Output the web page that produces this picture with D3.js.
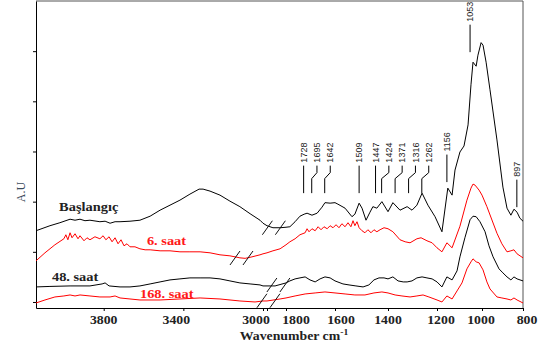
<!DOCTYPE html>
<html>
<head>
<meta charset="utf-8">
<script src="https://cdn.jsdelivr.net/npm/d3@7"></script>
<style>
  body { margin: 0; background: #fff; }
</style>
</head>
<body>
<div id="chart"></div>
<script>
// broken wavenumber axis: 4140-3000 | 1880-800
const wnStops = [4140, 3000, 1880, 1800, 1600, 1400, 1200, 1000, 800];
const xTicks = [3800, 3400, 3000, 1800, 1600, 1400, 1200, 1000, 800];
const yTicks = [0, 1, 2, 3, 4, 5];

// spectra [wavenumber, A.U]
const baslangic = [
  [4140,1.42],[4070,1.52],[4020,1.58],[3969,1.65],[3944,1.63],[3919,1.65],[3894,1.62],[3869,1.63],
  [3819,1.60],[3793,1.61],[3768,1.57],[3743,1.60],[3718,1.60],[3668,1.61],[3618,1.63],[3567,1.71],
  [3517,1.83],[3467,1.93],[3417,2.03],[3367,2.15],[3321,2.25],[3301,2.25],[3266,2.21],[3216,2.13],
  [3166,2.01],[3116,1.90],[3065,1.76],[3015,1.63],[3000,1.57],
  [1880,1.52],[1855,1.48],[1825,1.48],[1800,1.49],[1784,1.50],[1763,1.60],[1743,1.71],[1726,1.75],
  [1714,1.77],[1694,1.73],[1673,1.77],[1653,1.89],[1641,1.98],[1620,1.97],[1600,1.98],[1589,1.95],
  [1562,1.87],[1536,1.70],[1525,1.75],[1509,1.97],[1498,1.87],[1483,1.63],[1468,1.79],[1457,1.90],
  [1442,1.87],[1423,2.00],[1400,1.80],[1380,1.98],[1351,1.83],[1322,1.90],[1302,1.83],[1282,1.93],
  [1261,2.17],[1237,1.93],[1208,1.70],[1178,1.40],[1152,2.27],[1133,2.13],[1120,2.63],[1098,2.99],
  [1080,3.11],[1062,3.53],[1049,4.33],[1040,4.78],[1026,4.70],[1018,4.92],[1004,5.17],[995,5.12],
  [980,4.78],[961,4.23],[927,3.23],[898,2.29],[878,1.87],[859,1.73],[844,1.85],[829,1.79],
  [815,1.67],[800,1.61]
];

const saat6 = [
  [4140,0.82],[4095,0.98],[4045,1.14],[4000,1.26],[3990,1.34],[3980,1.24],[3969,1.38],[3959,1.28],
  [3944,1.36],[3929,1.26],[3919,1.32],[3899,1.22],[3884,1.28],[3869,1.24],[3844,1.30],[3819,1.26],
  [3803,1.32],[3789,1.24],[3773,1.30],[3758,1.20],[3743,1.28],[3728,1.16],[3713,1.24],[3698,1.12],
  [3683,1.16],[3668,1.10],[3643,1.10],[3618,1.06],[3592,1.04],[3567,1.04],[3517,1.02],[3467,1.02],
  [3417,1.00],[3367,1.00],[3316,1.00],[3266,0.98],[3216,0.94],[3166,0.92],[3116,0.88],[3090,0.87],
  [3065,0.89],[3015,0.94],[3000,0.96],
  [1880,0.98],[1855,1.02],[1825,1.06],[1800,1.14],[1784,1.20],[1763,1.26],[1743,1.34],[1722,1.38],
  [1714,1.46],[1706,1.40],[1694,1.46],[1681,1.42],[1669,1.50],[1657,1.44],[1645,1.50],[1632,1.46],
  [1620,1.52],[1608,1.48],[1596,1.54],[1585,1.48],[1574,1.56],[1562,1.50],[1551,1.58],[1540,1.50],
  [1532,1.62],[1525,1.52],[1517,1.60],[1509,1.48],[1498,1.42],[1487,1.38],[1476,1.44],[1464,1.38],
  [1453,1.44],[1442,1.40],[1430,1.44],[1415,1.48],[1400,1.46],[1380,1.40],[1351,1.24],[1330,1.20],
  [1310,1.18],[1282,1.26],[1265,1.28],[1241,1.22],[1220,1.18],[1200,1.08],[1178,1.00],[1156,1.18],
  [1133,1.08],[1098,1.51],[1067,2.03],[1049,2.27],[1040,2.35],[1031,2.33],[1013,2.23],[1000,2.13],
  [976,1.90],[927,1.37],[903,1.16],[878,1.00],[859,1.02],[844,1.04],[829,0.96],[800,0.88]
];

const saat48 = [
  [4140,0.30],[4070,0.31],[3969,0.32],[3869,0.32],[3808,0.36],[3793,0.38],[3773,0.32],[3718,0.30],
  [3668,0.30],[3618,0.32],[3567,0.36],[3517,0.40],[3467,0.44],[3417,0.46],[3367,0.48],[3316,0.48],
  [3266,0.48],[3216,0.46],[3166,0.42],[3116,0.38],[3065,0.36],[3015,0.34],[3000,0.32],
  [1880,0.32],[1846,0.32],[1800,0.38],[1784,0.42],[1763,0.46],[1743,0.48],[1722,0.50],[1702,0.44],
  [1681,0.40],[1661,0.46],[1641,0.50],[1620,0.48],[1600,0.42],[1570,0.36],[1547,0.34],[1521,0.32],
  [1494,0.30],[1472,0.34],[1453,0.44],[1434,0.48],[1415,0.48],[1400,0.46],[1380,0.50],[1359,0.42],
  [1338,0.40],[1322,0.40],[1302,0.42],[1282,0.48],[1261,0.50],[1241,0.48],[1220,0.46],[1200,0.40],
  [1178,0.30],[1156,0.50],[1133,0.44],[1111,0.62],[1098,0.90],[1076,1.28],[1053,1.64],[1040,1.71],
  [1026,1.70],[1009,1.60],[985,1.40],[966,1.12],[946,0.90],[917,0.66],[898,0.58],[878,0.50],
  [859,0.44],[844,0.50],[829,0.46],[800,0.42]
];

const saat168 = [
  [4140,-0.02],[4095,0.04],[4045,0.10],[4000,0.12],[3969,0.14],[3944,0.12],[3919,0.14],[3869,0.12],
  [3819,0.10],[3768,0.10],[3743,0.12],[3718,0.08],[3668,0.06],[3618,0.04],[3517,0.04],[3417,0.06],
  [3316,0.08],[3216,0.06],[3116,0.02],[3040,0.00],[3000,0.02],
  [1880,0.02],[1825,0.06],[1800,0.08],[1763,0.12],[1722,0.16],[1681,0.18],[1641,0.20],[1600,0.18],
  [1562,0.16],[1525,0.14],[1487,0.14],[1453,0.18],[1423,0.20],[1400,0.18],[1371,0.14],[1343,0.12],
  [1310,0.10],[1282,0.12],[1257,0.14],[1233,0.10],[1200,0.04],[1178,0.00],[1156,0.12],[1133,0.06],
  [1111,0.22],[1089,0.38],[1067,0.66],[1049,0.80],[1040,0.86],[1026,0.80],[1013,0.78],[995,0.64],
  [976,0.40],[961,0.26],[927,0.10],[903,0.08],[878,0.06],[859,0.04],[844,0.08],[829,0.04],[800,-0.02]
];

const seriesNames = ["Başlangıç", "6. saat", "48. saat", "168. saat"];
const seriesData = [baslangic, saat6, saat48, saat168];
const seriesColors = ["#000000", "#ff0000", "#000000", "#ff0000"];
// where each name sits [wavenumber, A.U]
const seriesLabelAt = [[4024, 1.81], [3583, 1.14], [4060, 0.42], [3618, 0.08]];
// where the "//" break sign sits on each spectrum
const breakAt = [1851, 3108, 1832, 1874];

// band labels (top black spectrum)
const peakLabels = ["1728","1695","1642","1509","1447","1424","1371","1316","1262","1156","1053","897"];
const peakWn     = [1728, 1695, 1642, 1509, 1447, 1424, 1371, 1316, 1262, 1156, 1053, 830];
const peakLineEnd = [2.17, 2.17, 2.17, 2.17, 2.17, 2.17, 2.17, 2.17, 2.17, 2.39, 4.98, 1.89];

const width = 545, height = 349;
const plot = {left: 36, right: 523, top: 1, bottom: 308};
// the tick labels of the original sit a little off their ticks
const tickLabelShift = [0, -7, -7, 10, 6, 0, 4, -1, 4];

const x = d3.scaleLinear()
    .domain(wnStops)
    .range([36, 263, 267, 286, 335, 388, 437, 482, 523]);

const y = d3.scaleLinear()
    .domain([-0.12, 6])
    .range([plot.bottom, plot.top]);

const svg = d3.select('#chart')
    .append('svg')
    .attr('width', width)
    .attr('height', height);

const serif = '"Liberation Serif", "DejaVu Serif", serif';

// frame
svg.append('path')
    .attr('d', `M${plot.left},${plot.top}H${plot.right}V${plot.bottom}`)
    .attr('fill', 'none')
    .attr('stroke', '#555')
    .attr('stroke-width', 1);

// axes
const xAxis = d3.axisBottom(x)
    .tickValues(xTicks.concat([1880]))
    .tickSize(3)
    .tickSizeOuter(0)
    .tickFormat('');

svg.append('g')
    .attr('transform', `translate(0,${plot.bottom})`)
    .call(xAxis)
    .call(g => g.selectAll('line, path').attr('stroke', '#000'));

const yAxis = d3.axisLeft(y)
    .tickValues(yTicks)
    .tickSize(3)
    .tickSizeOuter(0)
    .tickFormat('');

svg.append('g')
    .attr('transform', `translate(${plot.left},0)`)
    .call(yAxis)
    .call(g => g.selectAll('line, path').attr('stroke', '#000'));

// tick labels (figure is stretched horizontally)
svg.append('g')
    .selectAll('text')
    .data(xTicks)
    .join('text')
    .attr('transform', (d, i) => `translate(${x(d) + tickLabelShift[i]},324) scale(1.15,1)`)
    .attr('text-anchor', 'middle')
    .attr('font-family', serif)
    .attr('font-weight', 'bold')
    .attr('font-size', 12)
    .attr('fill', '#222')
    .text(d => d);

const title = svg.append('text')
    .attr('transform', `translate(294,339.5) scale(1.2,1)`)
    .attr('text-anchor', 'middle')
    .attr('font-family', serif)
    .attr('font-weight', 'bold')
    .attr('font-size', 11.5)
    .attr('fill', '#222');
title.append('tspan').text('Wavenumber cm');
title.append('tspan').attr('baseline-shift', 'super').attr('font-size', 8).text('-1');

svg.append('text')
    .attr('transform', 'translate(25,192) rotate(-90)')
    .attr('text-anchor', 'middle')
    .attr('font-family', serif)
    .attr('font-size', 12)
    .attr('fill', '#3a4a5a')
    .text('A.U');

// spectra
const line = d3.line()
    .x(d => x(d[0]))
    .y(d => y(d[1]));

svg.append('g')
    .selectAll('path')
    .data(seriesData)
    .join('path')
    .attr('fill', 'none')
    .attr('stroke', (d, i) => seriesColors[i])
    .attr('stroke-width', 1)
    .attr('stroke-linejoin', 'round')
    .attr('d', line);

function valueAt(data, wn) {
    for (let i = 1; i < data.length; i++) {
        const a = data[i - 1], b = data[i];
        if (wn <= a[0] && wn >= b[0]) {
            const t = (a[0] - wn) / (a[0] - b[0]);
            return a[1] + t * (b[1] - a[1]);
        }
    }
    return data[data.length - 1][1];
}

// break signs
const breaks = svg.append('g')
    .attr('stroke', '#111')
    .attr('stroke-width', 1);
seriesData.forEach(function (data, i) {
    const cx = x(breakAt[i]);
    const cy = y(valueAt(data, breakAt[i]));
    [-6.5, 6.5].forEach(function (off) {
        breaks.append('line')
            .attr('x1', cx + off - 5).attr('y1', cy + 7)
            .attr('x2', cx + off + 5).attr('y2', cy - 7);
    });
});

// series names
svg.append('g')
    .selectAll('text')
    .data(seriesNames)
    .join('text')
    .attr('transform', (d, i) => `translate(${x(seriesLabelAt[i][0])},${y(seriesLabelAt[i][1])}) scale(1.2,1)`)
    .attr('font-family', serif)
    .attr('font-weight', 'bold')
    .attr('font-size', 12)
    .attr('fill', (d, i) => seriesColors[i] === '#000000' ? '#222' : '#ff1a1a')
    .text(d => d);

// band markers
let prevX = -Infinity;
const labelX = peakWn.map(function (w) {
    const lx = Math.max(x(w), prevX + 13.3);
    prevX = lx;
    return lx;
});

const peaks = svg.append('g');
peakLabels.forEach(function (lab, i) {
    const px = x(peakWn[i]);
    const lx = labelX[i];
    const bottom = y(peakLineEnd[i]);
    const top = bottom - 27.5;
    const path = Math.abs(lx - px) < 0.5
        ? `M${px},${top}V${bottom}`
        : `M${lx},${top}V${top + 7}L${px},${top + 13}V${bottom}`;
    peaks.append('path')
        .attr('d', path)
        .attr('fill', 'none')
        .attr('stroke', '#000')
        .attr('stroke-width', 1);
    peaks.append('text')
        .attr('transform', `translate(${lx + 3.2},${top - 3}) rotate(-90)`)
        .attr('font-family', '"Liberation Sans", Arial, sans-serif')
        .attr('font-size', 9)
        .attr('fill', '#222')
        .text(lab);
});
</script>
</body>
</html>
